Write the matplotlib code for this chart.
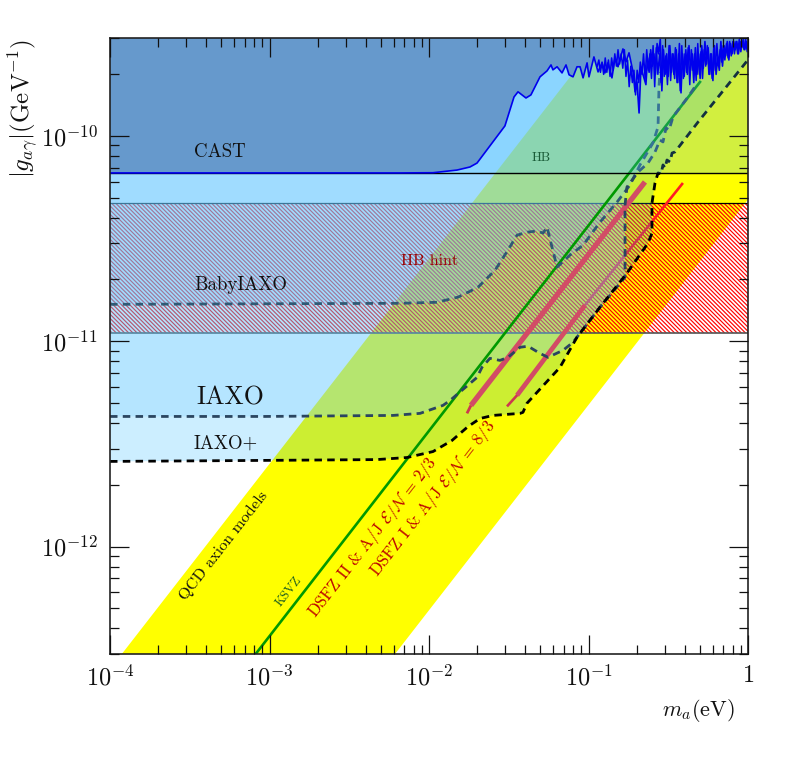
import numpy as np
import matplotlib
matplotlib.use('Agg')
import matplotlib.pyplot as plt
from matplotlib.ticker import LogLocator, NullFormatter

plt.rcParams['font.family'] = ['cmr10', 'DejaVu Serif']
plt.rcParams['mathtext.fontset'] = 'cm'
plt.rcParams['axes.unicode_minus'] = False
plt.rcParams['axes.formatter.use_mathtext'] = True
plt.rcParams['hatch.linewidth'] = 0.85

# ---- data (log10 of m_a [eV] and of g [1/GeV]) ----
x_limits = [1e-4, 1.0]
y_limits = [3e-13, 3e-10]
x_major = [1e-4, 1e-3, 1e-2, 1e-1, 1.0]
x_labels = [r'$10^{-4}$', r'$10^{-3}$', r'$10^{-2}$', r'$10^{-1}$', r'$1$']
y_major = [1e-12, 1e-11, 1e-10]
y_labels = [r'$10^{-12}$', r'$10^{-11}$', r'$10^{-10}$']

band_m = [1e-4, 1.0]
band_low = [4.9e-15, 4.9e-11]
band_high = [2.53e-13, 2.53e-9]

hb_limit = 6.6e-11
hint_low = 1.094e-11
hint_high = 4.71e-11

cast_m = [-4.000,-2.182,-1.975,-1.824,-1.743,-1.699,-1.524,-1.467,-1.442,-1.392,-1.361,-1.304,-1.260,-1.235,-1.223,-1.197,-1.166,-1.141,-1.122,-1.097,-1.072,-1.053,-1.034,-1.009,-0.997,-0.966,-0.940,
          -0.915,-0.897,-0.878,-0.853,-0.834,-0.815,-0.784,-0.765,-0.746,-0.721,-0.708,-0.696,-0.683,-0.671,
          -0.64,-0.63,-0.62,-0.61,-0.60,-0.59,-0.58,-0.57,-0.56,-0.55,-0.54,-0.53,-0.52,-0.51,-0.50,-0.49,-0.48,-0.47,-0.46,-0.45,-0.44,-0.43,-0.42,-0.41,-0.40,-0.39,-0.38,-0.37,-0.36,-0.35,-0.34,-0.33,-0.32,-0.31,-0.30,-0.29,-0.28,-0.27,-0.26,-0.25,-0.24,-0.23,-0.22,-0.21,-0.20,-0.19,-0.18,-0.17,-0.16,-0.15,-0.14,-0.13,-0.12,-0.11,-0.10,-0.09,-0.08,-0.07,-0.06,-0.05,-0.04,-0.03,-0.02,-0.01,0.0]
cast_g = [-10.180,-10.180,-10.179,-10.166,-10.151,-10.132,-9.951,-9.810,-9.785,-9.815,-9.800,-9.712,-9.683,-9.654,-9.678,-9.663,-9.693,-9.654,-9.702,-9.712,-9.663,-9.663,-9.717,-9.644,-9.712,-9.615,-9.688,
          -9.644,-9.693,-9.644,-9.717,-9.620,-9.663,-9.576,-9.639,-9.595,-9.688,-9.785,-9.737,-9.888,-9.668,
          -9.75,-9.62,-9.69,-9.58,-9.66,-9.60,-9.70,-9.55,-9.60,-9.53,-9.78,-9.58,-9.70,-9.60,-9.71,-9.56,-9.69,-9.60,-9.72,-9.58,-9.74,-9.55,-9.79,-9.60,-9.71,-9.58,-9.70,-9.56,-9.68,-9.60,-9.74,-9.57,-9.70,-9.60,-9.72,-9.56,-9.67,-9.54,-9.65,-9.57,-9.70,-9.60,-9.73,-9.56,-9.70,-9.62,-9.68,-9.54,-9.66,-9.56,-9.61,-9.54,-9.63,-9.55,-9.60,-9.54,-9.58,-9.54,-9.60,-9.54,-9.57,-9.53,-9.58,-9.54,-9.57]

# second reading of the fine structure of the CAST limit at high mass
cast_fine_g = [-9.66,-9.63,-9.69,-9.64,-9.70,-9.62,-9.69,-9.63,-9.71,-9.62,-9.68,-9.60,-9.66,-9.58,-9.65,-9.60,-9.67,-9.58,-9.71,-9.63,-9.76,-9.66,-9.74,-9.68,-9.80,-9.68,-9.74,-9.64,-9.70,-9.60,
               -9.72,-9.58,-9.68,-9.60,-9.72,-9.56,-9.76,-9.57,-9.70,-9.60,-9.74,-9.56,-9.71,-9.61,-9.75,-9.56,-9.73,-9.60,-9.70,-9.57,
               -9.74,-9.60,-9.78,-9.56,-9.72,-9.60,-9.69,-9.57,-9.75,-9.58,-9.68,-9.60,-9.73,-9.55,-9.70,-9.59,-9.72,-9.58,-9.66,-9.56,
               -9.70,-9.60,-9.72,-9.57,-9.68,-9.55,-9.66,-9.58,-9.64,-9.56,-9.63,-9.55,-9.62,-9.54,-9.61,-9.54,-9.60,-9.54,-9.60,-9.53,
               -9.59,-9.54,-9.58,-9.53,-9.59,-9.54]
cast_fine_m = np.linspace(-0.945, 0.005, len(cast_fine_g))

iaxo_plus_m = [-4.000,-3.028,-2.326,-2.138,-1.975,-1.856,-1.755,-1.680,-1.599,-1.429,-1.411,-1.386,-1.179,-1.072,-0.928,-0.759,-0.627,-0.602,-0.602,-0.583,-0.564,-0.545,-0.533,-0.520,-0.508,-0.489,-0.476,-0.458,-0.313,0.0]
iaxo_plus_g = [-11.585,-11.580,-11.576,-11.566,-11.537,-11.483,-11.415,-11.376,-11.361,-11.351,-11.346,-11.302,-11.127,-10.980,-10.834,-10.668,-10.522,-10.473,-10.327,-10.229,-10.180,-10.185,-10.141,-10.156,-10.117,-10.127,-10.083,-10.078,-9.932,-9.629]

iaxo_m = [-4.000,-3.028,-2.226,-2.056,-1.912,-1.868,-1.699,-1.668,-1.618,-1.555,-1.505,-1.429,-1.379,-1.304,-1.254,-1.160,-1.097,-0.928,-0.771,-0.771,-0.759,-0.690,-0.627,-0.583,-0.552,-0.533,-0.514,-0.495,-0.470,-0.376,-0.320]
iaxo_g = [-11.366,-11.366,-11.361,-11.351,-11.312,-11.288,-11.176,-11.127,-11.083,-11.093,-11.078,-11.029,-11.024,-11.059,-11.078,-11.044,-11.005,-10.834,-10.688,-10.337,-10.249,-10.176,-10.132,-10.078,-10.020,-10.029,-9.961,-9.971,-9.907,-9.810,-9.746]

baby_m = [-4.000,-2.182,-1.950,-1.818,-1.693,-1.586,-1.505,-1.448,-1.379,-1.323,-1.285,-1.260,-1.229,-1.197,-1.116,-1.034,-0.928,-0.821,-0.740,-0.677,-0.596,-0.564,-0.558,-0.552]
baby_g = [-10.820,-10.815,-10.810,-10.785,-10.737,-10.654,-10.556,-10.483,-10.468,-10.463,-10.473,-10.444,-10.541,-10.639,-10.580,-10.532,-10.420,-10.322,-10.239,-10.141,-10.034,-9.956,-9.761,-9.688]

ksvz_m = [-3.091, -0.301]
ksvz_g = [-12.527, -9.737]
dfsz2_thin_m = [-1.762, -1.737]
dfsz2_thin_g = [-11.351, -11.312]
dfsz2_thick_m = [-1.737, -0.646]
dfsz2_thick_g = [-11.312, -10.224]
dfsz1_thin_m = [-1.511, -1.448, -1.022, -0.408]
dfsz1_thin_g = [-11.317, -11.263, -10.824, -10.229]
dfsz1_thick_m = [-1.448, -1.022]
dfsz1_thick_g = [-11.263, -10.824]


def lin(v):
    return 10.0 ** np.asarray(v, dtype=float)


fig = plt.figure(figsize=(7.88, 7.61), dpi=100)
ax = fig.add_axes([110/788, 1-654/761, 638/788, 616/761])
ax.set_xscale('log')
ax.set_yscale('log')
ax.set_xlim(x_limits)
ax.set_ylim(y_limits)
top = y_limits[1]
left = x_limits[0]

# QCD band
ax.fill_between(band_m, band_low, band_high, color='#ffff00', lw=0, zorder=1.0)
# HB hint
ax.fill_between(x_limits, [hint_low]*2, [hint_high]*2, facecolor='none', edgecolor='#ff0000',
                hatch='\\\\\\\\\\\\\\\\', lw=0, zorder=1.05)
ax.plot(x_limits, [hint_high]*2, color='black', lw=0.9, zorder=1.06)
ax.plot(x_limits, [hint_low]*2, color='#555555', lw=1.2, zorder=1.06)

# red DFSZ models
red = '#ff1c24'
ax.plot(lin(dfsz2_thin_m), lin(dfsz2_thin_g), color=red, lw=2.0, zorder=1.1, solid_capstyle='butt')
ax.plot(lin(dfsz1_thin_m), lin(dfsz1_thin_g), color=red, lw=1.9, zorder=1.1, solid_capstyle='butt')


def region(lm, lg, colour, alpha, z):
    xs = list(lin(lm)) + [lin(lm)[-1], left]
    ys = list(lin(lg)) + [top, top]
    ax.fill(xs, ys, color=colour, alpha=alpha, lw=0, zorder=z)


region(iaxo_plus_m, iaxo_plus_g, (0.0, 0.67, 1.0), 0.20, 1.2)
region(iaxo_m, iaxo_g, (0.5, 0.82, 1.0), 0.30, 1.25)
region(baby_m, baby_g, (0.43, 0.78, 1.0), 0.286, 1.3)

pink = '#d24c66'
ax.plot(lin(dfsz2_thick_m), lin(dfsz2_thick_g), color=pink, lw=3.8, zorder=1.35, solid_capstyle='butt')
ax.plot(lin(dfsz1_thick_m), lin(dfsz1_thick_g), color=pink, lw=3.4, zorder=1.35, solid_capstyle='butt')

# green KSVZ
ax.plot(lin(ksvz_m), lin(ksvz_g), color='#009900', lw=1.9, zorder=1.4)

dash = (0, (2.7, 1.9))
ax.plot(lin(baby_m), lin(baby_g), color='#2f5a75', lw=2.0, ls=dash, zorder=1.45)
ax.plot(lin(iaxo_m), lin(iaxo_g), color='#2a4560', lw=2.0, ls=dash, zorder=1.46)
ax.plot(lin(iaxo_plus_m), lin(iaxo_plus_g), color='black', lw=2.0, ls=dash, zorder=1.47)

# HB exclusion
ax.fill_between(x_limits, [hb_limit]*2, [top]*2, color=(0.3, 0.76, 1.0), alpha=0.25, lw=0, zorder=1.5)
ax.plot(x_limits, [hb_limit]*2, color='black', lw=1.0, zorder=1.55)

# CAST
xs = list(lin(cast_m)) + [1.0, left]
ys = list(lin(cast_g)) + [top, top]
ax.fill(xs, ys, color='#6699cc', lw=0, zorder=1.6)
ax.plot(lin(cast_m), lin(cast_g), color='#0000ee', lw=1.2, zorder=1.7)
ax.plot(lin(cast_fine_m), lin(cast_fine_g), color='#0000ee', lw=1.1, zorder=1.7)

# axes
ax.set_axisbelow(False)
ax.set_xticks(x_major, x_labels)
ax.set_yticks(y_major, y_labels)
ax.xaxis.set_minor_locator(LogLocator(base=10, subs=np.arange(2, 10), numticks=20))
ax.yaxis.set_minor_locator(LogLocator(base=10, subs=np.arange(2, 10), numticks=20))
ax.xaxis.set_minor_formatter(NullFormatter())
ax.yaxis.set_minor_formatter(NullFormatter())
ax.tick_params(which='major', direction='in', top=True, right=True, length=13.5, width=0.9, labelsize=17.5, colors='#111111')
ax.tick_params(axis='y', which='major', pad=9)
ax.tick_params(axis='x', which='major', pad=8)
ax.tick_params(which='minor', direction='in', top=True, right=True, length=6.5, width=0.9, colors='#111111')
for s in ax.spines.values():
    s.set_linewidth(1.2)
    s.set_color('#222222')


def label(x, y, s, size, colour='#111111', rot=0):
    fig.text(x, y, s, fontsize=size, color=colour, rotation=rot, rotation_mode='anchor',
             ha='left', va='baseline', zorder=5)


label(.2462, .7937, 'CAST', 13.6)
label(.2462, .6190, 'BabyIAXO', 13.6)
label(.2487, .4691, 'IAXO', 18.5)
label(.2462, .4100, 'IAXO+', 13.6)
label(.6751, .7884, 'HB', 9.5, '#1a5c38')
label(.5089, .6518, 'HB hint', 11.6, '#990000')
label(.2360, .2103, 'QCD axion models', 11.7, '#111111', 52)
label(.3566, .2024, 'KSVZ', 9.2, '#1a5c20', 52)
label(.3997, .1879, r'DSFZ II & A/J $\mathcal{E}/\mathcal{N}\,=\,2/3$', 11.9, '#bb0000', 52)
label(.4784, .2418, r'DSFZ I & A/J $\mathcal{E}/\mathcal{N}\,=\,8/3$', 11.9, '#bb0000', 52)
label(.8400, .0591, r'$m_a(\mathrm{eV})$', 16)
fig.text(.030, .858, r'$|g_{a\gamma}|(\mathrm{GeV}^{-1})$', fontsize=18, color='#111111',
         rotation=90, ha='center', va='center')

fig.savefig('out.png', dpi=100)
